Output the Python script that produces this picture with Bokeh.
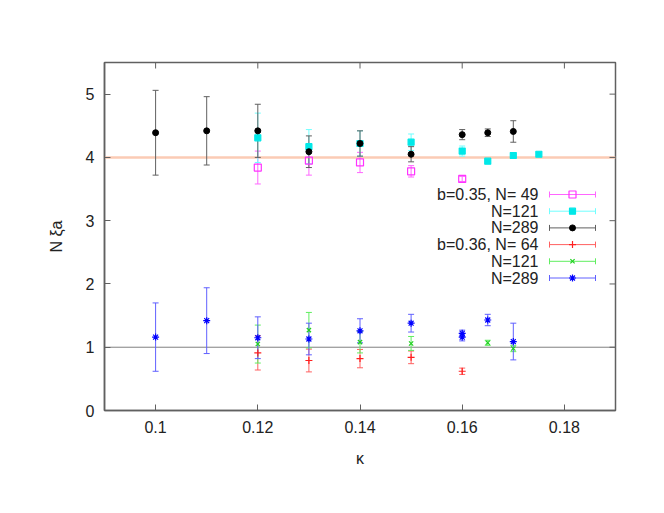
from bokeh.plotting import figure
from bokeh.models import (ColumnDataSource, Whisker, TeeHead, Span, Range1d, FixedTicker,
                          NumeralTickFormatter)
from bokeh.core.properties import value
from bokeh.embed import file_html
from bokeh.resources import INLINE

# ---------------- data ----------------
KAPPA_TICKS = [0.10, 0.12, 0.14, 0.16, 0.18]
Y_TICKS = [0, 1, 2, 3, 4, 5]
FIT_LEVELS = [4.0, 1.0]   # horizontal reference lines

b035_N49_k = [0.12, 0.13, 0.14, 0.15, 0.16]
b035_N49_v = [3.84, 3.95, 3.92, 3.78, 3.66]
b035_N49_e = [0.26, 0.23, 0.16, 0.09, 0.04]

b035_N121_k = [0.12, 0.13, 0.14, 0.15, 0.16, 0.165, 0.17, 0.175]
b035_N121_v = [4.31, 4.17, 4.22, 4.24, 4.10, 3.94, 4.03, 4.05]
b035_N121_e = [0.39, 0.27, 0.20, 0.13, 0.08, 0.03, 0.03, 0.03]

b035_N289_k = [0.10, 0.11, 0.12, 0.13, 0.14, 0.15, 0.16, 0.165, 0.17]
b035_N289_v = [4.39, 4.42, 4.42, 4.09, 4.22, 4.05, 4.36, 4.39, 4.41]
b035_N289_e = [0.67, 0.54, 0.42, 0.25, 0.20, 0.12, 0.08, 0.06, 0.17]

b036_N64_k = [0.12, 0.13, 0.14, 0.15, 0.16]
b036_N64_v = [0.91, 0.79, 0.82, 0.84, 0.62]
b036_N64_e = [0.27, 0.18, 0.145, 0.10, 0.05]

b036_N121_k = [0.12, 0.13, 0.14, 0.15, 0.165, 0.17]
b036_N121_v = [1.05, 1.27, 1.08, 1.06, 1.07, 0.98]
b036_N121_e = [0.30, 0.28, 0.17, 0.11, 0.04, 0.05]

b036_N289_k = [0.10, 0.11, 0.12, 0.13, 0.14, 0.15, 0.16, 0.16, 0.165, 0.17]
b036_N289_v = [1.16, 1.42, 1.15, 1.13, 1.26, 1.38, 1.22, 1.16, 1.43, 1.09]
b036_N289_e = [0.54, 0.52, 0.33, 0.25, 0.19, 0.14, 0.05, 0.06, 0.09, 0.29]

LABELS = ["b=0.35, N= 49", "N=121", "N=289", "b=0.36, N= 64", "N=121", "N=289"]

# ---------------- styles ----------------
FONT = "Liberation Sans"
X0, X1, Y0, Y1 = 0.09, 0.19, 0.0, 5.5
AX_COL = "#606060"
FR_L, FR_R, FR_T, FR_B = 104, 615, 62, 410   # frame edges in page pixels
TICK_PX = 6

series = [
    (b035_N49_k, b035_N49_v, b035_N49_e, "square", "#ff33ff", "#ff66ff", 7, False),
    (b035_N121_k, b035_N121_v, b035_N121_e, "square", "#00e8e8", "#70ffff", 6, True),
    (b035_N289_k, b035_N289_v, b035_N289_e, "circle", "#000000", "#606060", 6, True),
    (b036_N64_k, b036_N64_v, b036_N64_e, "cross", "#ff2020", "#ff6060", 7, True),
    (b036_N121_k, b036_N121_v, b036_N121_e, "x", "#20d020", "#60ee60", 6, True),
    (b036_N289_k, b036_N289_v, b036_N289_e, "asterisk", "#0000ff", "#6060ff", 7, True),
]

W, H = 656, 505
p = figure(width=W, height=H, output_backend="svg", toolbar_location=None,
           x_range=Range1d(X0, X1), y_range=Range1d(Y0, Y1),
           min_border_left=FR_L, min_border_right=W - FR_R,
           min_border_top=FR_T, min_border_bottom=H - FR_B)
p.background_fill_color = "white"
p.border_fill_color = "white"
p.outline_line_color = AX_COL
p.outline_line_width = 1.5
p.grid.visible = False

# axes
for ax in (p.xaxis[0], p.yaxis[0]):
    ax.axis_line_color = AX_COL
    ax.axis_line_width = 1.5
    ax.major_tick_line_color = AX_COL
    ax.major_tick_in = TICK_PX
    ax.major_tick_out = 0
    ax.minor_tick_line_color = None
    ax.major_label_text_font = FONT
    ax.major_label_text_font_size = "16px"
    ax.major_label_text_color = "#222222"
    ax.axis_label_text_font = FONT
    ax.axis_label_text_font_size = "16px"
    ax.axis_label_text_font_style = "normal"
    ax.axis_label_text_color = "#222222"
    ax.major_label_standoff = 10
p.xaxis[0].ticker = FixedTicker(ticks=KAPPA_TICKS)
p.xaxis[0].formatter = NumeralTickFormatter(format="0.[00]")
p.yaxis[0].ticker = FixedTicker(ticks=Y_TICKS)
p.xaxis[0].axis_label = "κ"
p.yaxis[0].axis_label = "N ξa"
p.xaxis[0].axis_label_standoff = 14
p.yaxis[0].axis_label_standoff = 18

# pixel <-> data helpers (layout)
def xd(px):
    return X0 + (px - FR_L) / (FR_R - FR_L) * (X1 - X0)

def yd(py):
    return Y1 - (py - FR_T) / (FR_B - FR_T) * (Y1 - Y0)

dx_tick = TICK_PX / (FR_R - FR_L) * (X1 - X0)
dy_tick = TICK_PX / (FR_B - FR_T) * (Y1 - Y0)

# mirrored ticks on top and right edges
p.segment(x0=KAPPA_TICKS, x1=KAPPA_TICKS, y0=[Y1] * len(KAPPA_TICKS),
          y1=[Y1 - dy_tick] * len(KAPPA_TICKS), line_color=AX_COL, line_width=1)
p.segment(x0=[X1] * len(Y_TICKS), x1=[X1 - dx_tick] * len(Y_TICKS), y0=Y_TICKS, y1=Y_TICKS,
          line_color=AX_COL, line_width=1)

# reference lines
p.add_layout(Span(location=FIT_LEVELS[0], dimension="width", line_color="#fbcbb5",
                  line_width=2.5, level="underlay"))
p.add_layout(Span(location=FIT_LEVELS[1], dimension="width", line_color="#808080",
                  line_width=1, level="underlay"))

# data series with error bars
for k, v, e, marker, mcol, ecol, size, filled in series:
    src = ColumnDataSource(dict(k=k, v=v, lo=[a - b for a, b in zip(v, e)],
                                hi=[a + b for a, b in zip(v, e)]))
    w = Whisker(source=src, base="k", upper="hi", lower="lo", line_color=ecol, line_width=1,
                upper_head=TeeHead(size=6, line_color=ecol, line_width=1),
                lower_head=TeeHead(size=6, line_color=ecol, line_width=1), level="underlay")
    p.add_layout(w)
    p.scatter("k", "v", source=src, marker=marker, size=size, line_color=mcol,
              fill_color=mcol if filled else None, line_width=1.2 if marker != "circle" else 1)

# legend (text right-aligned, sample error bar to the right)
row_py = [194 + i * 16.7 for i in range(len(LABELS))]
for (k, v, e, marker, mcol, ecol, size, filled), lab, py in zip(series, LABELS, row_py):
    yy = yd(py)
    p.text(x=[xd(538)], y=[yy], text=[lab], text_align="right", text_baseline="middle",
           text_font=value(FONT), text_font_size="16px", text_color="#222222")
    lsrc = ColumnDataSource(dict(y=[yy], a=[xd(549)], b=[xd(595)], c=[xd(572)]))
    p.add_layout(Whisker(source=lsrc, base="y", lower="a", upper="b", dimension="width",
                         line_color=ecol, line_width=1,
                         upper_head=TeeHead(size=6, line_color=ecol, line_width=1),
                         lower_head=TeeHead(size=6, line_color=ecol, line_width=1),
                         level="underlay"))
    p.scatter("c", "y", source=lsrc, marker=marker, size=size, line_color=mcol,
              fill_color=mcol if filled else None, line_width=1.2 if marker != "circle" else 1)

open("out.html", "w").write(file_html(p, INLINE))
